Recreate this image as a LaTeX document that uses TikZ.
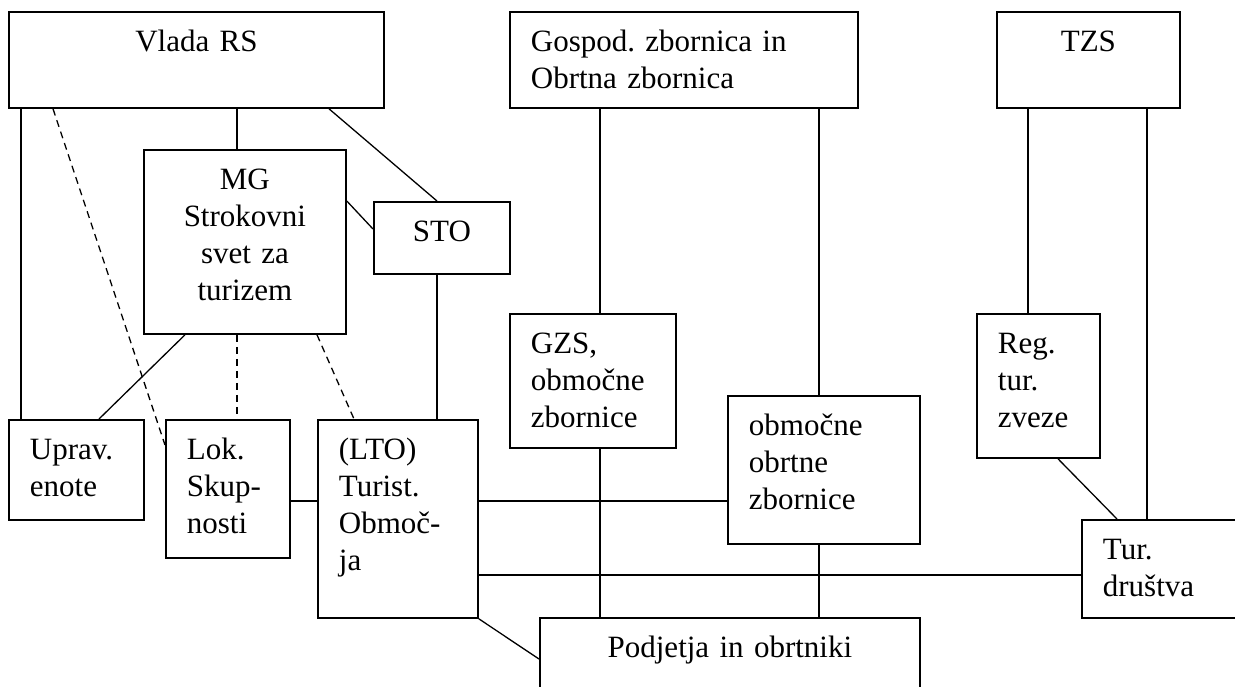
\documentclass[tikz,border=0pt]{standalone}
\usepackage{fontspec}
\setmainfont{Liberation Serif}
\usepackage{tikz}
\frenchspacing
\tikzstyle{edge}=[
	-,
	draw=black,
	line width=1.3pt
]
\tikzstyle{dedge}=[
	edge,
	dash pattern=on 7pt off 5pt
]
\tikzstyle{box}=[
	draw=black,
	line width=1.8pt,
	anchor=north west,
	inner xsep=21pt,
	inner ysep=0pt,
	text height=40pt,
	align=left,
	font=\fontsize{31}{37}\selectfont
]

\begin{document}
\begin{tikzpicture}[x=1pt,y=-1pt]
\useasboundingbox (0,0) rectangle (1235,686);
\clip (0,0) rectangle (1235,686);

\node[box, align=center, text width=333pt, text depth=56pt] (vlada) at (8,11) {Vlada RS};
\node[box, text width=306pt, text depth=56pt] (gospod) at (509,11) {Gospod. zbornica in\\Obrtna zbornica};
\node[box, align=center, text width=141pt, text depth=56pt] (tzs) at (996,11) {TZS};
\node[box, align=center, text width=160pt, text depth=144pt] (mg) at (143,149) {MG\\Strokovni\\svet za\\turizem};
\node[box, align=center, text width=94pt, text depth=32pt] (sto) at (373,201) {STO};
\node[box, text width=124pt, text depth=94pt] (gzs) at (509,313) {GZS,\\območne\\zbornice};
\node[box, text width=81pt, text depth=104pt] (reg) at (976,313) {Reg.\\tur.\\zveze};
\node[box, text width=150pt, text depth=108pt] (obrtne) at (727,395) {območne\\obrtne\\zbornice};
\node[box, text width=93pt, text depth=60pt] (uprav) at (8,419) {Uprav.\\enote};
\node[box, text width=82pt, text depth=98pt] (lok) at (165,419) {Lok.\\Skup-\\nosti};
\node[box, text width=118pt, text depth=158pt] (lto) at (317,419) {(LTO)\\Turist.\\Območ-\\ja};
\node[box, text width=130pt, text depth=58pt] (tur) at (1081,519) {Tur.\\društva};
\node[box, align=center, text width=338pt, text depth=50pt] (podjetja) at (539,617) {Podjetja in obrtniki};

% Vlada RS
\draw[edge] (vlada.south -| 21,0) -- (uprav.north -| 21,0);
\draw[dedge] (vlada.south -| 53,0) -- (lok.west |- 0,445);
\draw[edge] (vlada.south -| 237,0) -- (mg.north -| 237,0);
\draw[edge] (vlada.south -| 329,0) -- (sto.north -| 437,0);

% MG
\draw[edge] (mg.east |- 0,201) -- (sto.west |- 0,229);
\draw[edge] (mg.south -| 185,0) -- (uprav.north -| 99,0);
\draw[dedge] (mg.south -| 237,0) -- (lok.north -| 237,0);
\draw[dedge] (mg.south -| 317,0) -- (lto.north -| 354,0);
\draw[edge] (sto.south -| 437,0) -- (lto.north -| 437,0);

% LTO
\draw[edge] (lok.east |- 0,501) -- (lto.west |- 0,501);
\draw[edge] (lto.east |- 0,501) -- (obrtne.west |- 0,501);
\draw[edge] (lto.east |- 0,575) -- (tur.west |- 0,575);
\draw[edge] (lto.south east) -- (podjetja.west |- 0,659);

% zbornice
\draw[edge] (gospod.south -| 600,0) -- (gzs.north -| 600,0);
\draw[edge] (gospod.south -| 819,0) -- (obrtne.north -| 819,0);
\draw[edge] (gzs.south -| 600,0) -- (podjetja.north -| 600,0);
\draw[edge] (obrtne.south -| 819,0) -- (podjetja.north -| 819,0);

% TZS
\draw[edge] (tzs.south -| 1028,0) -- (reg.north -| 1028,0);
\draw[edge] (tzs.south -| 1147,0) -- (tur.north -| 1147,0);
\draw[edge] (reg.south -| 1058,0) -- (tur.north -| 1117,0);

\end{tikzpicture}
\end{document}
